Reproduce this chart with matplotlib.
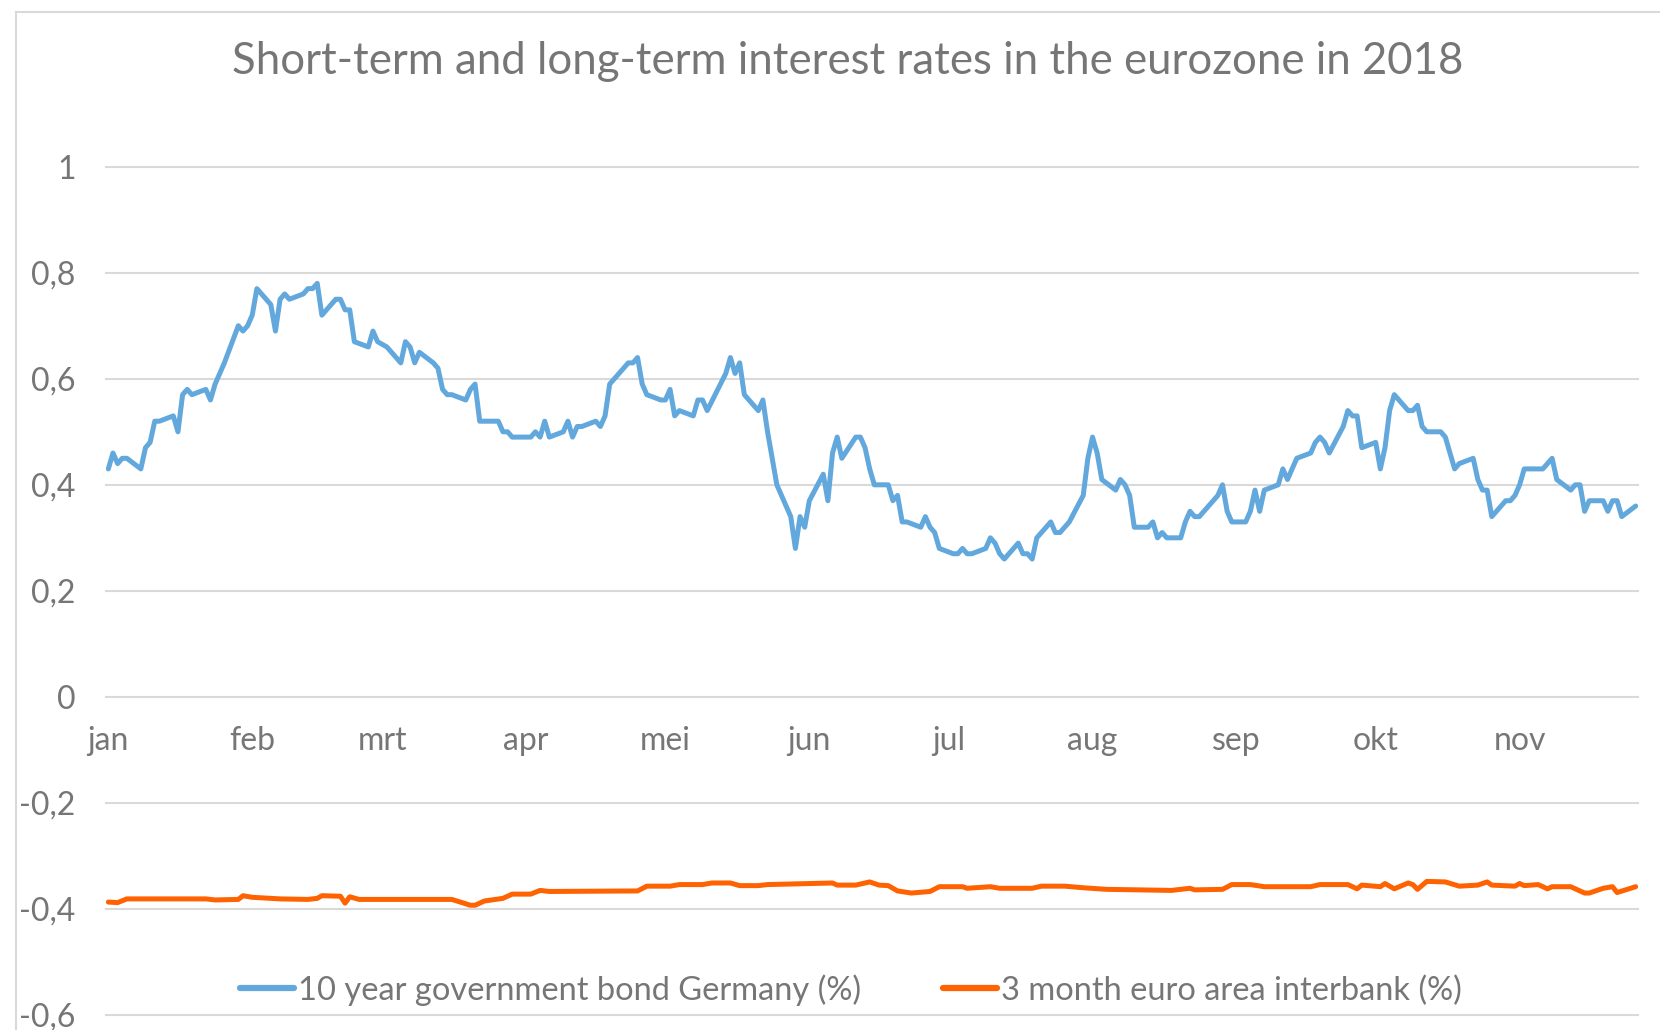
import numpy as np
import pandas as pd
import matplotlib
matplotlib.use('Agg')
import matplotlib.pyplot as plt
import matplotlib.dates as mdates
from matplotlib.lines import Line2D

plt.rcParams['font.family'] = ['Lato', 'DejaVu Sans']

# 10 year government bond Germany (%), vertices
bund_dates = [
    '01-01', '01-02', '01-03', '01-04', '01-05', '01-08', '01-09', '01-10', '01-11', '01-12',
    '01-15', '01-16', '01-17', '01-18', '01-19', '01-22', '01-23', '01-24', '01-26', '01-29',
    '01-30', '01-31', '02-01', '02-02', '02-05', '02-06', '02-07', '02-08', '02-09', '02-12',
    '02-13', '02-14', '02-15', '02-16', '02-19', '02-20', '02-21', '02-22', '02-23', '02-26',
    '02-27', '02-28', '03-02', '03-05', '03-06', '03-07', '03-08', '03-09', '03-12', '03-13',
    '03-14', '03-15', '03-16', '03-19', '03-20', '03-21', '03-22', '03-26', '03-27', '03-28',
    '03-29', '04-02', '04-03', '04-04', '04-05', '04-06', '04-09', '04-10', '04-11', '04-12',
    '04-13', '04-16', '04-17', '04-18', '04-19', '04-22', '04-23', '04-24', '04-25', '04-26',
    '04-27', '04-30', '05-01', '05-02', '05-03', '05-04', '05-07', '05-08', '05-09', '05-10',
    '05-14', '05-15', '05-16', '05-17', '05-18', '05-21', '05-22', '05-23', '05-25', '05-28',
    '05-29', '05-30', '05-31', '06-01', '06-04', '06-05', '06-06', '06-07', '06-08', '06-11',
    '06-12', '06-13', '06-14', '06-15', '06-18', '06-19', '06-20', '06-21', '06-22', '06-25',
    '06-26', '06-27', '06-28', '06-29', '07-02', '07-03', '07-04', '07-05', '07-06', '07-09',
    '07-10', '07-11', '07-12', '07-13', '07-16', '07-17', '07-18', '07-19', '07-20', '07-23',
    '07-24', '07-25', '07-27', '07-30', '07-31', '08-01', '08-02', '08-03', '08-06', '08-07',
    '08-08', '08-09', '08-10', '08-13', '08-14', '08-15', '08-16', '08-17', '08-20', '08-21',
    '08-22', '08-23', '08-24', '08-28', '08-29', '08-30', '08-31', '09-03', '09-04', '09-05',
    '09-06', '09-07', '09-10', '09-11', '09-12', '09-14', '09-17', '09-18', '09-19', '09-20',
    '09-21', '09-24', '09-25', '09-26', '09-27', '09-28', '10-01', '10-02', '10-03', '10-04',
    '10-05', '10-08', '10-09', '10-10', '10-11', '10-12', '10-15', '10-16', '10-18', '10-19',
    '10-22', '10-23', '10-24', '10-25', '10-26', '10-29', '10-30', '10-31', '11-01', '11-02',
    '11-06', '11-08', '11-09', '11-12', '11-13', '11-14', '11-15', '11-16', '11-19', '11-20',
    '11-21', '11-22', '11-23', '11-26',
]
bund_vals = [
    0.43, 0.46, 0.44, 0.45, 0.45, 0.43, 0.47, 0.48, 0.52, 0.52,
    0.53, 0.50, 0.57, 0.58, 0.57, 0.58, 0.56, 0.59, 0.63, 0.70,
    0.69, 0.70, 0.72, 0.77, 0.74, 0.69, 0.75, 0.76, 0.75, 0.76,
    0.77, 0.77, 0.78, 0.72, 0.75, 0.75, 0.73, 0.73, 0.67, 0.66,
    0.69, 0.67, 0.66, 0.63, 0.67, 0.66, 0.63, 0.65, 0.63, 0.62,
    0.58, 0.57, 0.57, 0.56, 0.58, 0.59, 0.52, 0.52, 0.50, 0.50,
    0.49, 0.49, 0.50, 0.49, 0.52, 0.49, 0.50, 0.52, 0.49, 0.51,
    0.51, 0.52, 0.51, 0.53, 0.59, 0.62, 0.63, 0.63, 0.64, 0.59,
    0.57, 0.56, 0.56, 0.58, 0.53, 0.54, 0.53, 0.56, 0.56, 0.54,
    0.61, 0.64, 0.61, 0.63, 0.57, 0.54, 0.56, 0.50, 0.40, 0.34,
    0.28, 0.34, 0.32, 0.37, 0.42, 0.37, 0.46, 0.49, 0.45, 0.49,
    0.49, 0.47, 0.43, 0.40, 0.40, 0.37, 0.38, 0.33, 0.33, 0.32,
    0.34, 0.32, 0.31, 0.28, 0.27, 0.27, 0.28, 0.27, 0.27, 0.28,
    0.30, 0.29, 0.27, 0.26, 0.29, 0.27, 0.27, 0.26, 0.30, 0.33,
    0.31, 0.31, 0.33, 0.38, 0.45, 0.49, 0.46, 0.41, 0.39, 0.41,
    0.40, 0.38, 0.32, 0.32, 0.33, 0.30, 0.31, 0.30, 0.30, 0.33,
    0.35, 0.34, 0.34, 0.38, 0.40, 0.35, 0.33, 0.33, 0.35, 0.39,
    0.35, 0.39, 0.40, 0.43, 0.41, 0.45, 0.46, 0.48, 0.49, 0.48,
    0.46, 0.51, 0.54, 0.53, 0.53, 0.47, 0.48, 0.43, 0.47, 0.54,
    0.57, 0.54, 0.54, 0.55, 0.51, 0.50, 0.50, 0.49, 0.43, 0.44,
    0.45, 0.41, 0.39, 0.39, 0.34, 0.37, 0.37, 0.38, 0.40, 0.43,
    0.43, 0.45, 0.41, 0.39, 0.40, 0.40, 0.35, 0.37, 0.37, 0.35,
    0.37, 0.37, 0.34, 0.36,
]

# 3 month euro area interbank (%)
euribor_dates = [
    '01-01', '01-03', '01-05', '01-22', '01-24', '01-29', '01-30', '02-01', '02-07', '02-13',
    '02-15', '02-16', '02-20', '02-21', '02-22', '02-24', '03-16', '03-20', '03-21', '03-23',
    '03-27', '03-29', '04-02', '04-04', '04-06', '04-25', '04-27', '05-02', '05-04', '05-09',
    '05-11', '05-15', '05-17', '05-21', '05-23', '06-06', '06-07', '06-11', '06-14', '06-16',
    '06-18', '06-20', '06-23', '06-27', '06-29', '07-04', '07-05', '07-10', '07-12', '07-19',
    '07-21', '07-26', '07-30', '08-04', '08-18', '08-22', '08-23', '08-29', '08-31', '09-04',
    '09-07', '09-17', '09-19', '09-25', '09-27', '09-28', '10-02', '10-03', '10-05', '10-08',
    '10-09', '10-10', '10-12', '10-16', '10-19', '10-23', '10-25', '10-26', '10-31', '11-01',
    '11-02', '11-05', '11-07', '11-08', '11-12', '11-15', '11-16', '11-19', '11-21', '11-22',
    '11-26',
]
euribor_vals = [
    -0.387, -0.388, -0.381, -0.381, -0.383, -0.382, -0.375, -0.378, -0.381, -0.382,
    -0.380, -0.375, -0.376, -0.389, -0.377, -0.382, -0.382, -0.393, -0.393, -0.385,
    -0.380, -0.372, -0.372, -0.365, -0.367, -0.366, -0.357, -0.357, -0.354, -0.354,
    -0.351, -0.351, -0.356, -0.356, -0.354, -0.351, -0.355, -0.355, -0.349, -0.355,
    -0.356, -0.366, -0.370, -0.367, -0.358, -0.358, -0.361, -0.358, -0.361, -0.361,
    -0.357, -0.357, -0.360, -0.363, -0.365, -0.361, -0.364, -0.363, -0.354, -0.354,
    -0.358, -0.358, -0.354, -0.354, -0.362, -0.355, -0.358, -0.352, -0.362, -0.351,
    -0.354, -0.363, -0.348, -0.349, -0.357, -0.355, -0.349, -0.355, -0.357, -0.352,
    -0.356, -0.354, -0.362, -0.358, -0.358, -0.370, -0.370, -0.361, -0.358, -0.369,
    -0.358,
]

month_labels = ['jan', 'feb', 'mrt', 'apr', 'mei', 'jun', 'jul', 'aug', 'sep', 'okt', 'nov']
y_ticks = [-0.6, -0.4, -0.2, 0, 0.2, 0.4, 0.6, 0.8, 1.0]
y_labels = ['-0,6', '-0,4', '-0,2', '0', '0,2', '0,4', '0,6', '0,8', '1']

title = 'Short-term and long-term interest rates in the eurozone in 2018'
bund_name = '10 year government bond Germany (%)'
euribor_name = '3 month euro area interbank (%)'

BLUE = '#62A8DD'
ORANGE = '#FF6200'
TEXT = '#767676'
GRID = '#D9D9D9'

bund_x = pd.to_datetime(['2018-' + d for d in bund_dates])
euribor_x = pd.to_datetime(['2018-' + d for d in euribor_dates])
month_x = pd.date_range('2018-01-01', periods=len(month_labels), freq='MS')

W, H = 1660, 1030
fig = plt.figure(figsize=(W / 100, H / 100), dpi=100)
fig.patch.set_facecolor('white')

# chart area border (top and left visible, the rest runs off the picture)
fig.add_artist(Line2D([16 / W, 1], [1 - 12 / H, 1 - 12 / H], color=GRID, lw=1.5))
fig.add_artist(Line2D([16 / W, 16 / W], [0, 1 - 12 / H], color=GRID, lw=1.5))

ax = fig.add_axes([106 / W, 1 - 1015 / H, 1532 / W, (1015 - 166.7) / H])

ax.plot(bund_x, bund_vals, color=BLUE, lw=3.6, solid_joinstyle='round',
        solid_capstyle='round', label=bund_name, zorder=3)
ax.plot(euribor_x, euribor_vals, color=ORANGE, lw=3.6, solid_joinstyle='round',
        solid_capstyle='round', label=euribor_name, zorder=3)

half_day = pd.Timedelta(hours=12)
ax.set_xlim(bund_x[0] - half_day, bund_x[-1] + half_day)
ax.set_ylim(-0.6, 1.0)

ax.set_yticks(y_ticks)
ax.set_yticklabels(y_labels)
ax.set_xticks(month_x)
ax.set_xticklabels(month_labels)

for s in ax.spines.values():
    s.set_visible(False)
ax.spines['bottom'].set_position(('data', 0))

ax.tick_params(axis='y', length=0, pad=22, labelsize=23, labelcolor=TEXT)
ax.tick_params(axis='x', length=0, pad=21, labelsize=23, labelcolor=TEXT)

ax.grid(axis='y', color=GRID, lw=1.5, zorder=0)
ax.grid(axis='x', visible=False)
for gl in ax.get_ygridlines():
    gl.set_clip_on(False)
ax.set_axisbelow(True)

fig.text(848 / W, 1 - 74 / H, title, ha='center', va='baseline',
         fontsize=31.5, color=TEXT)

leg = fig.legend(loc='center', bbox_to_anchor=(851 / W, 1 - 990 / H), ncol=2,
                 frameon=False, fontsize=23.5, handlelength=1.65, handletextpad=0.12,
                 columnspacing=2.5, borderaxespad=0)
for t in leg.get_texts():
    t.set_color(TEXT)
for h in leg.legend_handles:
    h.set_linewidth(4.5)
    h.set_solid_capstyle('round')

fig.savefig('out.png', dpi=100, facecolor='white')
